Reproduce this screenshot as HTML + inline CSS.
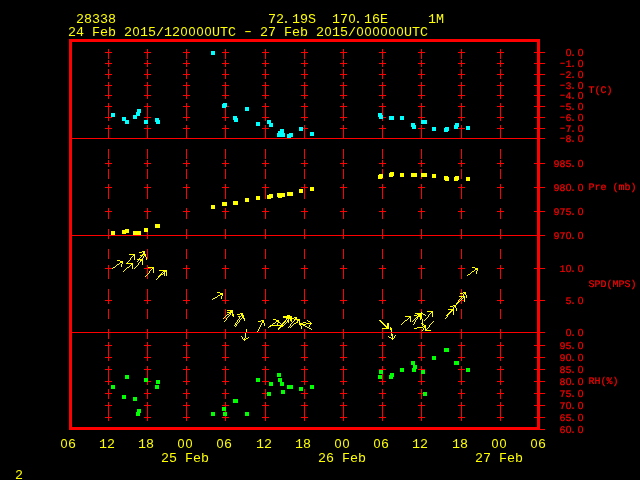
<!DOCTYPE html>
<html><head><meta charset="utf-8"><title>Meteogram 28338</title>
<style>
html,body{margin:0;padding:0;background:#000;width:640px;height:480px;overflow:hidden}
svg{display:block}
text{font-family:"Liberation Mono",monospace;text-anchor:middle}
.z{font-family:"Liberation Sans",sans-serif}
.b{font-size:13.333px;fill:#ffff00}
.b .z{font-size:12.6px}
.s{font-size:10px;fill:#ff0000;text-rendering:geometricPrecision;stroke:#ff0000;stroke-width:0.2px}
.s .z{font-size:10.2px}
</style></head><body>
<svg width="640" height="480" viewBox="0 0 640 480">
<rect width="640" height="480" fill="#000"/>
<path fill="#ff0000" d="M69 39h471v3h-471zM69 42h3v385h-3zM537 42h3v10h-3zM108 49h1v3h-1zM147 49h1v3h-1zM186 49h1v3h-1zM225 49h1v3h-1zM265 49h1v3h-1zM304 49h1v3h-1zM343 49h1v3h-1zM382 49h1v3h-1zM421 49h1v3h-1zM461 49h1v3h-1zM500 49h1v3h-1zM105 52h7v1h-7zM144 52h7v1h-7zM183 52h7v1h-7zM222 52h7v1h-7zM262 52h7v1h-7zM301 52h7v1h-7zM340 52h7v1h-7zM379 52h7v1h-7zM418 52h7v1h-7zM458 52h7v1h-7zM497 52h7v1h-7zM534 52h11v1h-11zM108 53h1v6h-1zM147 53h1v6h-1zM186 53h1v6h-1zM225 53h1v6h-1zM265 53h1v6h-1zM304 53h1v6h-1zM343 53h1v6h-1zM382 53h1v6h-1zM421 53h1v6h-1zM461 53h1v6h-1zM500 53h1v6h-1zM537 53h3v10h-3zM108 60h1v3h-1zM147 60h1v3h-1zM186 60h1v3h-1zM225 60h1v3h-1zM265 60h1v3h-1zM304 60h1v3h-1zM343 60h1v3h-1zM382 60h1v3h-1zM421 60h1v3h-1zM461 60h1v3h-1zM500 60h1v3h-1zM105 63h7v1h-7zM144 63h7v1h-7zM183 63h7v1h-7zM222 63h7v1h-7zM262 63h7v1h-7zM301 63h7v1h-7zM340 63h7v1h-7zM379 63h7v1h-7zM418 63h7v1h-7zM458 63h7v1h-7zM497 63h7v1h-7zM534 63h11v1h-11zM108 64h1v3h-1zM147 64h1v3h-1zM186 64h1v3h-1zM225 64h1v3h-1zM265 64h1v3h-1zM304 64h1v3h-1zM343 64h1v3h-1zM382 64h1v3h-1zM421 64h1v3h-1zM461 64h1v3h-1zM500 64h1v3h-1zM537 64h3v10h-3zM108 69h1v5h-1zM147 69h1v5h-1zM186 69h1v5h-1zM225 69h1v5h-1zM265 69h1v5h-1zM304 69h1v5h-1zM343 69h1v5h-1zM382 69h1v5h-1zM421 69h1v5h-1zM461 69h1v5h-1zM500 69h1v5h-1zM105 74h7v1h-7zM144 74h7v1h-7zM183 74h7v1h-7zM222 74h7v1h-7zM262 74h7v1h-7zM301 74h7v1h-7zM340 74h7v1h-7zM379 74h7v1h-7zM418 74h7v1h-7zM458 74h7v1h-7zM497 74h7v1h-7zM534 74h11v1h-11zM108 75h1v4h-1zM147 75h1v4h-1zM186 75h1v4h-1zM225 75h1v4h-1zM265 75h1v4h-1zM304 75h1v4h-1zM343 75h1v4h-1zM382 75h1v4h-1zM421 75h1v4h-1zM461 75h1v4h-1zM500 75h1v4h-1zM537 75h3v10h-3zM108 82h1v3h-1zM147 82h1v3h-1zM186 82h1v3h-1zM225 82h1v3h-1zM265 82h1v3h-1zM304 82h1v3h-1zM343 82h1v3h-1zM382 82h1v3h-1zM421 82h1v3h-1zM461 82h1v3h-1zM500 82h1v3h-1zM105 85h7v1h-7zM144 85h7v1h-7zM183 85h7v1h-7zM222 85h7v1h-7zM262 85h7v1h-7zM301 85h7v1h-7zM340 85h7v1h-7zM379 85h7v1h-7zM418 85h7v1h-7zM458 85h7v1h-7zM497 85h7v1h-7zM534 85h11v1h-11zM108 86h1v9h-1zM147 86h1v9h-1zM186 86h1v9h-1zM225 86h1v9h-1zM265 86h1v9h-1zM304 86h1v9h-1zM343 86h1v9h-1zM382 86h1v9h-1zM421 86h1v9h-1zM461 86h1v9h-1zM500 86h1v9h-1zM537 86h3v9h-3zM105 95h7v1h-7zM144 95h7v1h-7zM183 95h7v1h-7zM222 95h7v1h-7zM262 95h7v1h-7zM301 95h7v1h-7zM340 95h7v1h-7zM379 95h7v1h-7zM418 95h7v1h-7zM458 95h7v1h-7zM497 95h7v1h-7zM534 95h11v1h-11zM108 96h1v3h-1zM147 96h1v3h-1zM186 96h1v3h-1zM225 96h1v3h-1zM265 96h1v3h-1zM304 96h1v3h-1zM343 96h1v3h-1zM382 96h1v3h-1zM421 96h1v3h-1zM461 96h1v3h-1zM500 96h1v3h-1zM537 96h3v10h-3zM108 103h1v3h-1zM147 103h1v3h-1zM186 103h1v3h-1zM225 103h1v3h-1zM265 103h1v3h-1zM304 103h1v3h-1zM343 103h1v3h-1zM382 103h1v3h-1zM421 103h1v3h-1zM461 103h1v3h-1zM500 103h1v3h-1zM105 106h7v1h-7zM144 106h7v1h-7zM183 106h7v1h-7zM222 106h7v1h-7zM262 106h7v1h-7zM301 106h7v1h-7zM340 106h7v1h-7zM379 106h7v1h-7zM418 106h7v1h-7zM458 106h7v1h-7zM497 106h7v1h-7zM534 106h11v1h-11zM108 107h1v10h-1zM147 107h1v10h-1zM186 107h1v10h-1zM225 107h1v10h-1zM265 107h1v10h-1zM304 107h1v10h-1zM343 107h1v10h-1zM382 107h1v10h-1zM421 107h1v10h-1zM461 107h1v10h-1zM500 107h1v10h-1zM537 107h3v10h-3zM105 117h7v1h-7zM144 117h7v1h-7zM183 117h7v1h-7zM222 117h7v1h-7zM262 117h7v1h-7zM301 117h7v1h-7zM340 117h7v1h-7zM379 117h7v1h-7zM418 117h7v1h-7zM458 117h7v1h-7zM497 117h7v1h-7zM534 117h11v1h-11zM108 118h1v3h-1zM147 118h1v3h-1zM186 118h1v3h-1zM225 118h1v3h-1zM265 118h1v3h-1zM304 118h1v3h-1zM343 118h1v3h-1zM382 118h1v3h-1zM421 118h1v3h-1zM461 118h1v3h-1zM500 118h1v3h-1zM537 118h3v10h-3zM108 125h1v3h-1zM147 125h1v3h-1zM186 125h1v3h-1zM225 125h1v3h-1zM265 125h1v3h-1zM304 125h1v3h-1zM343 125h1v3h-1zM382 125h1v3h-1zM421 125h1v3h-1zM461 125h1v3h-1zM500 125h1v3h-1zM105 128h7v1h-7zM144 128h7v1h-7zM183 128h7v1h-7zM222 128h7v1h-7zM262 128h7v1h-7zM301 128h7v1h-7zM340 128h7v1h-7zM379 128h7v1h-7zM418 128h7v1h-7zM458 128h7v1h-7zM497 128h7v1h-7zM534 128h11v1h-11zM108 129h1v10h-1zM147 129h1v10h-1zM186 129h1v10h-1zM225 129h1v10h-1zM265 129h1v10h-1zM304 129h1v10h-1zM343 129h1v10h-1zM382 129h1v10h-1zM421 129h1v10h-1zM461 129h1v10h-1zM500 129h1v10h-1zM537 129h3v9h-3zM534 138h11v1h-11zM537 139h3v24h-3zM108 149h1v10h-1zM147 149h1v10h-1zM186 149h1v10h-1zM225 149h1v10h-1zM265 149h1v10h-1zM304 149h1v10h-1zM343 149h1v10h-1zM382 149h1v10h-1zM421 149h1v10h-1zM461 149h1v10h-1zM500 149h1v10h-1zM108 160h1v3h-1zM147 160h1v3h-1zM186 160h1v3h-1zM225 160h1v3h-1zM265 160h1v3h-1zM304 160h1v3h-1zM343 160h1v3h-1zM382 160h1v3h-1zM421 160h1v3h-1zM461 160h1v3h-1zM500 160h1v3h-1zM105 163h7v1h-7zM144 163h7v1h-7zM183 163h7v1h-7zM222 163h7v1h-7zM262 163h7v1h-7zM301 163h7v1h-7zM340 163h7v1h-7zM379 163h7v1h-7zM418 163h7v1h-7zM458 163h7v1h-7zM497 163h7v1h-7zM534 163h11v1h-11zM108 164h1v3h-1zM147 164h1v3h-1zM186 164h1v3h-1zM225 164h1v3h-1zM265 164h1v3h-1zM304 164h1v3h-1zM343 164h1v3h-1zM382 164h1v3h-1zM421 164h1v3h-1zM461 164h1v3h-1zM500 164h1v3h-1zM537 164h3v23h-3zM108 169h1v10h-1zM147 169h1v10h-1zM186 169h1v10h-1zM225 169h1v10h-1zM265 169h1v10h-1zM304 169h1v10h-1zM343 169h1v10h-1zM382 169h1v10h-1zM421 169h1v10h-1zM461 169h1v10h-1zM500 169h1v10h-1zM108 184h1v3h-1zM147 184h1v3h-1zM186 184h1v3h-1zM225 184h1v3h-1zM265 184h1v3h-1zM304 184h1v3h-1zM343 184h1v3h-1zM382 184h1v3h-1zM421 184h1v3h-1zM461 184h1v3h-1zM500 184h1v3h-1zM105 187h7v1h-7zM144 187h7v1h-7zM183 187h7v1h-7zM222 187h7v1h-7zM262 187h7v1h-7zM301 187h7v1h-7zM340 187h7v1h-7zM379 187h7v1h-7zM418 187h7v1h-7zM458 187h7v1h-7zM497 187h7v1h-7zM534 187h11v1h-11zM108 188h1v11h-1zM147 188h1v11h-1zM186 188h1v11h-1zM225 188h1v11h-1zM265 188h1v11h-1zM304 188h1v11h-1zM343 188h1v11h-1zM382 188h1v11h-1zM421 188h1v11h-1zM461 188h1v11h-1zM500 188h1v11h-1zM537 188h3v23h-3zM108 208h1v3h-1zM147 208h1v3h-1zM186 208h1v3h-1zM225 208h1v3h-1zM265 208h1v3h-1zM304 208h1v3h-1zM343 208h1v3h-1zM382 208h1v3h-1zM421 208h1v3h-1zM461 208h1v3h-1zM500 208h1v3h-1zM105 211h7v1h-7zM144 211h7v1h-7zM183 211h7v1h-7zM222 211h7v1h-7zM262 211h7v1h-7zM301 211h7v1h-7zM340 211h7v1h-7zM379 211h7v1h-7zM418 211h7v1h-7zM458 211h7v1h-7zM497 211h7v1h-7zM534 211h11v1h-11zM108 212h1v7h-1zM147 212h1v7h-1zM186 212h1v7h-1zM225 212h1v7h-1zM265 212h1v7h-1zM304 212h1v7h-1zM343 212h1v7h-1zM382 212h1v7h-1zM421 212h1v7h-1zM461 212h1v7h-1zM500 212h1v7h-1zM537 212h3v23h-3zM108 229h1v10h-1zM147 229h1v10h-1zM186 229h1v10h-1zM225 229h1v10h-1zM265 229h1v10h-1zM304 229h1v10h-1zM343 229h1v10h-1zM382 229h1v10h-1zM421 229h1v10h-1zM461 229h1v10h-1zM500 229h1v10h-1zM534 235h11v1h-11zM537 236h3v32h-3zM108 249h1v10h-1zM147 249h1v10h-1zM186 249h1v10h-1zM225 249h1v10h-1zM265 249h1v10h-1zM304 249h1v10h-1zM343 249h1v10h-1zM382 249h1v10h-1zM421 249h1v10h-1zM461 249h1v10h-1zM500 249h1v10h-1zM108 265h1v3h-1zM147 265h1v3h-1zM186 265h1v3h-1zM225 265h1v3h-1zM265 265h1v3h-1zM304 265h1v3h-1zM343 265h1v3h-1zM382 265h1v3h-1zM421 265h1v3h-1zM461 265h1v3h-1zM500 265h1v3h-1zM105 268h7v1h-7zM144 268h7v1h-7zM183 268h7v1h-7zM222 268h7v1h-7zM262 268h7v1h-7zM301 268h7v1h-7zM340 268h7v1h-7zM379 268h7v1h-7zM418 268h7v1h-7zM458 268h7v1h-7zM497 268h7v1h-7zM534 268h11v1h-11zM108 269h1v10h-1zM147 269h1v10h-1zM186 269h1v10h-1zM225 269h1v10h-1zM265 269h1v10h-1zM304 269h1v10h-1zM343 269h1v10h-1zM382 269h1v10h-1zM421 269h1v10h-1zM461 269h1v10h-1zM500 269h1v10h-1zM537 269h3v31h-3zM108 289h1v11h-1zM147 289h1v11h-1zM186 289h1v11h-1zM225 289h1v11h-1zM265 289h1v11h-1zM304 289h1v11h-1zM343 289h1v11h-1zM382 289h1v11h-1zM421 289h1v11h-1zM461 289h1v11h-1zM500 289h1v11h-1zM105 300h7v1h-7zM144 300h7v1h-7zM183 300h7v1h-7zM222 300h7v1h-7zM262 300h7v1h-7zM301 300h7v1h-7zM340 300h7v1h-7zM379 300h7v1h-7zM418 300h7v1h-7zM458 300h7v1h-7zM497 300h7v1h-7zM534 300h11v1h-11zM108 301h1v3h-1zM147 301h1v3h-1zM186 301h1v3h-1zM225 301h1v3h-1zM265 301h1v3h-1zM304 301h1v3h-1zM343 301h1v3h-1zM382 301h1v3h-1zM421 301h1v3h-1zM461 301h1v3h-1zM500 301h1v3h-1zM537 301h3v31h-3zM108 309h1v10h-1zM147 309h1v10h-1zM186 309h1v10h-1zM225 309h1v10h-1zM265 309h1v10h-1zM304 309h1v10h-1zM343 309h1v10h-1zM382 309h1v10h-1zM421 309h1v10h-1zM461 309h1v10h-1zM500 309h1v10h-1zM108 329h1v10h-1zM147 329h1v10h-1zM186 329h1v10h-1zM225 329h1v10h-1zM265 329h1v10h-1zM304 329h1v10h-1zM343 329h1v10h-1zM382 329h1v10h-1zM421 329h1v10h-1zM461 329h1v10h-1zM500 329h1v10h-1zM534 332h11v1h-11zM537 333h3v12h-3zM108 342h1v3h-1zM147 342h1v3h-1zM186 342h1v3h-1zM225 342h1v3h-1zM265 342h1v3h-1zM304 342h1v3h-1zM343 342h1v3h-1zM382 342h1v3h-1zM421 342h1v3h-1zM461 342h1v3h-1zM500 342h1v3h-1zM105 345h7v1h-7zM144 345h7v1h-7zM183 345h7v1h-7zM222 345h7v1h-7zM262 345h7v1h-7zM301 345h7v1h-7zM340 345h7v1h-7zM379 345h7v1h-7zM418 345h7v1h-7zM458 345h7v1h-7zM497 345h7v1h-7zM534 345h11v1h-11zM108 346h1v11h-1zM147 346h1v11h-1zM186 346h1v11h-1zM225 346h1v11h-1zM265 346h1v11h-1zM304 346h1v11h-1zM343 346h1v11h-1zM382 346h1v11h-1zM421 346h1v11h-1zM461 346h1v11h-1zM500 346h1v11h-1zM537 346h3v11h-3zM105 357h7v1h-7zM144 357h7v1h-7zM183 357h7v1h-7zM222 357h7v1h-7zM262 357h7v1h-7zM301 357h7v1h-7zM340 357h7v1h-7zM379 357h7v1h-7zM418 357h7v1h-7zM458 357h7v1h-7zM497 357h7v1h-7zM534 357h11v1h-11zM108 358h1v3h-1zM147 358h1v3h-1zM186 358h1v3h-1zM225 358h1v3h-1zM265 358h1v3h-1zM304 358h1v3h-1zM343 358h1v3h-1zM382 358h1v3h-1zM421 358h1v3h-1zM461 358h1v3h-1zM500 358h1v3h-1zM537 358h3v11h-3zM108 366h1v3h-1zM147 366h1v3h-1zM186 366h1v3h-1zM225 366h1v3h-1zM265 366h1v3h-1zM304 366h1v3h-1zM343 366h1v3h-1zM382 366h1v3h-1zM421 366h1v3h-1zM461 366h1v3h-1zM500 366h1v3h-1zM105 369h7v1h-7zM144 369h7v1h-7zM183 369h7v1h-7zM222 369h7v1h-7zM262 369h7v1h-7zM301 369h7v1h-7zM340 369h7v1h-7zM379 369h7v1h-7zM418 369h7v1h-7zM458 369h7v1h-7zM497 369h7v1h-7zM534 369h11v1h-11zM108 370h1v11h-1zM147 370h1v11h-1zM186 370h1v11h-1zM225 370h1v11h-1zM265 370h1v11h-1zM304 370h1v11h-1zM343 370h1v11h-1zM382 370h1v11h-1zM421 370h1v11h-1zM461 370h1v11h-1zM500 370h1v11h-1zM537 370h3v11h-3zM105 381h7v1h-7zM144 381h7v1h-7zM183 381h7v1h-7zM222 381h7v1h-7zM262 381h7v1h-7zM301 381h7v1h-7zM340 381h7v1h-7zM379 381h7v1h-7zM418 381h7v1h-7zM458 381h7v1h-7zM497 381h7v1h-7zM534 381h11v1h-11zM108 382h1v3h-1zM147 382h1v3h-1zM186 382h1v3h-1zM225 382h1v3h-1zM265 382h1v3h-1zM304 382h1v3h-1zM343 382h1v3h-1zM382 382h1v3h-1zM421 382h1v3h-1zM461 382h1v3h-1zM500 382h1v3h-1zM537 382h3v11h-3zM108 389h1v4h-1zM147 389h1v4h-1zM186 389h1v4h-1zM225 389h1v4h-1zM265 389h1v4h-1zM304 389h1v4h-1zM343 389h1v4h-1zM382 389h1v4h-1zM421 389h1v4h-1zM461 389h1v4h-1zM500 389h1v4h-1zM105 393h7v1h-7zM144 393h7v1h-7zM183 393h7v1h-7zM222 393h7v1h-7zM262 393h7v1h-7zM301 393h7v1h-7zM340 393h7v1h-7zM379 393h7v1h-7zM418 393h7v1h-7zM458 393h7v1h-7zM497 393h7v1h-7zM534 393h11v1h-11zM108 394h1v5h-1zM147 394h1v5h-1zM186 394h1v5h-1zM225 394h1v5h-1zM265 394h1v5h-1zM304 394h1v5h-1zM343 394h1v5h-1zM382 394h1v5h-1zM421 394h1v5h-1zM461 394h1v5h-1zM500 394h1v5h-1zM537 394h3v11h-3zM108 402h1v3h-1zM147 402h1v3h-1zM186 402h1v3h-1zM225 402h1v3h-1zM265 402h1v3h-1zM304 402h1v3h-1zM343 402h1v3h-1zM382 402h1v3h-1zM421 402h1v3h-1zM461 402h1v3h-1zM500 402h1v3h-1zM105 405h7v1h-7zM144 405h7v1h-7zM183 405h7v1h-7zM222 405h7v1h-7zM262 405h7v1h-7zM301 405h7v1h-7zM340 405h7v1h-7zM379 405h7v1h-7zM418 405h7v1h-7zM458 405h7v1h-7zM497 405h7v1h-7zM534 405h11v1h-11zM108 406h1v11h-1zM147 406h1v11h-1zM186 406h1v11h-1zM225 406h1v11h-1zM265 406h1v11h-1zM304 406h1v11h-1zM343 406h1v11h-1zM382 406h1v11h-1zM421 406h1v11h-1zM461 406h1v11h-1zM500 406h1v11h-1zM537 406h3v11h-3zM105 417h7v1h-7zM144 417h7v1h-7zM183 417h7v1h-7zM222 417h7v1h-7zM262 417h7v1h-7zM301 417h7v1h-7zM340 417h7v1h-7zM379 417h7v1h-7zM418 417h7v1h-7zM458 417h7v1h-7zM497 417h7v1h-7zM534 417h11v1h-11zM108 418h1v3h-1zM147 418h1v3h-1zM186 418h1v3h-1zM225 418h1v3h-1zM265 418h1v3h-1zM304 418h1v3h-1zM343 418h1v3h-1zM382 418h1v3h-1zM421 418h1v3h-1zM461 418h1v3h-1zM500 418h1v3h-1zM537 418h3v9h-3zM69 427h471v2h-471zM69 429h476v1h-476z"/>
<path fill="#00ffff" d="M211 51h4v4h-4zM223 103h4v1h-4zM222 104h5v3h-5zM222 107h4v1h-4zM245 107h4v4h-4zM137 109h4v3h-4zM136 112h5v1h-5zM111 113h4v4h-4zM136 113h4v2h-4zM378 113h4v2h-4zM133 115h7v1h-7zM378 115h5v2h-5zM133 116h4v3h-4zM233 116h4v2h-4zM389 116h5v4h-5zM400 116h4v4h-4zM122 117h4v3h-4zM379 117h4v2h-4zM155 118h4v2h-4zM233 118h5v2h-5zM122 120h7v1h-7zM144 120h4v4h-4zM155 120h5v2h-5zM234 120h4v2h-4zM267 120h4v3h-4zM421 120h6v4h-6zM125 121h4v3h-4zM156 122h4v2h-4zM256 122h4v4h-4zM267 123h6v1h-6zM411 123h4v2h-4zM455 123h4v2h-4zM269 124h4v3h-4zM411 125h5v2h-5zM454 125h5v2h-5zM466 126h4v4h-4zM299 127h4v4h-4zM412 127h4v2h-4zM432 127h4v4h-4zM445 127h4v1h-4zM454 127h4v2h-4zM444 128h5v3h-5zM280 129h4v2h-4zM278 131h6v2h-6zM444 131h4v1h-4zM310 132h4v4h-4zM277 133h8v4h-8zM289 133h4v1h-4zM287 134h6v3h-6zM287 137h4v1h-4z"/>
<path fill="#ffff00" d="M390 172h4v1h-4zM389 173h5v3h-5zM400 173h4v4h-4zM411 173h6v4h-6zM421 173h6v4h-6zM379 174h4v1h-4zM432 174h4v4h-4zM378 175h5v3h-5zM389 176h4v1h-4zM444 176h4v1h-4zM455 176h4v1h-4zM444 177h5v3h-5zM454 177h5v3h-5zM466 177h4v4h-4zM378 178h4v1h-4zM445 180h4v1h-4zM454 180h4v1h-4zM310 187h4v4h-4zM299 189h4v4h-4zM287 192h6v4h-6zM277 193h8v4h-8zM269 194h4v1h-4zM267 195h6v3h-6zM256 196h4v4h-4zM278 197h4v1h-4zM245 198h4v4h-4zM267 198h4v1h-4zM233 201h5v4h-5zM222 202h5v4h-5zM211 205h4v4h-4zM155 224h5v4h-5zM144 228h4v4h-4zM125 229h4v1h-4zM122 230h7v3h-7zM111 231h4v4h-4zM133 231h8v4h-8zM122 233h4v1h-4z"/>
<path fill="#00ff00" d="M444 348h5v4h-5zM432 356h4v4h-4zM411 361h4v4h-4zM454 361h5v4h-5zM413 365h4v3h-4zM400 368h4v4h-4zM412 368h5v1h-5zM466 368h4v4h-4zM412 369h4v3h-4zM379 370h4v4h-4zM421 370h4v4h-4zM277 373h4v4h-4zM390 373h4v2h-4zM125 375h4v4h-4zM378 375h4v4h-4zM389 375h5v2h-5zM389 377h4v2h-4zM144 378h4v4h-4zM256 378h4v4h-4zM278 378h4v4h-4zM156 380h4v4h-4zM269 382h4v4h-4zM280 382h4v4h-4zM111 385h4v4h-4zM155 385h4v4h-4zM287 385h6v4h-6zM310 385h4v4h-4zM299 387h4v4h-4zM281 390h4v4h-4zM267 392h4v4h-4zM423 392h4v4h-4zM122 395h4v4h-4zM133 397h4v4h-4zM233 399h5v4h-5zM222 407h4v4h-4zM137 409h4v3h-4zM136 412h5v1h-5zM211 412h4v4h-4zM223 412h4v4h-4zM245 412h4v4h-4zM136 413h4v3h-4z"/>
<path fill="#ffff00" d="M142 251h3v1h-3zM139 252h3v1h-3zM143 252h2v2h-2zM129 254h6v1h-6zM142 254h4v1h-4zM133 255h2v1h-2zM140 255h3v1h-3zM144 255h2v1h-2zM132 256h1v1h-1zM134 256h1v4h-1zM141 256h1v1h-1zM143 256h1v2h-1zM145 256h1v1h-1zM131 257h1v1h-1zM140 257h1v1h-1zM146 257h1v3h-1zM130 258h1v2h-1zM139 258h1v1h-1zM142 258h1v1h-1zM137 259h6v1h-6zM117 260h3v1h-3zM129 260h1v1h-1zM138 260h1v1h-1zM140 260h3v1h-3zM120 261h3v2h-3zM128 261h1v1h-1zM137 261h1v1h-1zM140 261h1v1h-1zM142 261h1v4h-1zM127 262h1v1h-1zM139 262h1v1h-1zM119 263h1v1h-1zM122 263h1v1h-1zM126 263h7v1h-7zM138 263h1v2h-1zM117 264h2v1h-2zM121 264h1v3h-1zM131 264h2v1h-2zM116 265h1v1h-1zM130 265h1v1h-1zM132 265h1v4h-1zM137 265h1v1h-1zM115 266h1v1h-1zM129 266h1v1h-1zM136 266h1v1h-1zM113 267h2v1h-2zM127 267h2v1h-2zM135 267h1v1h-1zM148 267h6v1h-6zM472 267h3v1h-3zM112 268h1v1h-1zM126 268h1v1h-1zM134 268h1v1h-1zM152 268h2v1h-2zM475 268h3v2h-3zM125 269h1v1h-1zM151 269h1v1h-1zM153 269h1v4h-1zM124 270h1v1h-1zM150 270h1v1h-1zM159 270h8v1h-8zM474 270h1v1h-1zM477 270h1v1h-1zM123 271h1v1h-1zM149 271h1v2h-1zM163 271h4v1h-4zM472 271h2v1h-2zM476 271h1v3h-1zM162 272h1v1h-1zM164 272h1v1h-1zM166 272h1v4h-1zM471 272h1v1h-1zM148 273h1v1h-1zM161 273h1v1h-1zM163 273h2v1h-2zM470 273h1v1h-1zM147 274h1v1h-1zM160 274h3v1h-3zM164 274h1v2h-1zM468 274h2v1h-2zM146 275h1v1h-1zM159 275h2v1h-2zM467 275h1v1h-1zM145 276h1v1h-1zM158 276h2v1h-2zM158 277h1v1h-1zM157 278h1v1h-1zM156 279h1v1h-1zM217 292h3v1h-3zM463 292h3v1h-3zM220 293h3v2h-3zM460 293h3v1h-3zM464 293h2v1h-2zM463 294h1v2h-1zM465 294h1v1h-1zM218 295h2v1h-2zM222 295h1v1h-1zM466 295h1v3h-1zM217 296h1v1h-1zM221 296h1v3h-1zM459 296h6v1h-6zM215 297h2v1h-2zM461 297h1v1h-1zM463 297h2v1h-2zM213 298h2v1h-2zM460 298h1v1h-1zM462 298h1v1h-1zM464 298h1v4h-1zM212 299h1v1h-1zM459 299h1v1h-1zM461 299h1v1h-1zM458 300h1v1h-1zM460 300h1v1h-1zM458 301h2v1h-2zM457 302h2v1h-2zM456 303h2v1h-2zM456 304h1v1h-1zM453 305h3v1h-3zM450 306h3v1h-3zM454 306h2v1h-2zM453 307h1v2h-1zM455 307h1v1h-1zM456 308h1v3h-1zM448 309h6v1h-6zM227 310h6v1h-6zM451 310h3v1h-3zM230 311h3v1h-3zM427 311h6v1h-6zM450 311h2v1h-2zM453 311h1v4h-1zM227 312h6v1h-6zM421 312h1v1h-1zM431 312h2v1h-2zM449 312h2v1h-2zM229 313h2v1h-2zM232 313h1v1h-1zM240 313h3v1h-3zM415 313h8v1h-8zM430 313h1v1h-1zM432 313h1v4h-1zM448 313h2v1h-2zM227 314h2v1h-2zM230 314h1v1h-1zM232 314h2v2h-2zM237 314h3v1h-3zM241 314h2v1h-2zM417 314h5v1h-5zM423 314h2v1h-2zM429 314h1v1h-1zM447 314h2v1h-2zM226 315h1v1h-1zM229 315h1v1h-1zM241 315h3v1h-3zM287 315h3v1h-3zM414 315h3v1h-3zM418 315h4v1h-4zM425 315h1v1h-1zM428 315h1v2h-1zM446 315h2v1h-2zM225 316h1v1h-1zM228 316h1v1h-1zM233 316h1v1h-1zM238 316h3v1h-3zM242 316h2v2h-2zM283 316h9v2h-9zM405 316h6v1h-6zM417 316h5v1h-5zM447 316h1v1h-1zM224 317h1v1h-1zM227 317h1v1h-1zM239 317h1v2h-1zM294 317h3v1h-3zM409 317h2v1h-2zM416 317h2v1h-2zM420 317h2v2h-2zM427 317h1v1h-1zM446 317h1v1h-1zM223 318h1v1h-1zM226 318h1v2h-1zM241 318h1v1h-1zM243 318h2v1h-2zM286 318h8v1h-8zM295 318h2v1h-2zM408 318h1v1h-1zM410 318h1v4h-1zM415 318h1v1h-1zM417 318h1v1h-1zM426 318h1v1h-1zM445 318h1v1h-1zM238 319h1v1h-1zM240 319h1v1h-1zM244 319h1v2h-1zM273 319h3v1h-3zM286 319h1v1h-1zM288 319h1v1h-1zM290 319h2v2h-2zM294 319h6v1h-6zM407 319h1v1h-1zM414 319h1v1h-1zM416 319h1v1h-1zM420 319h1v1h-1zM422 319h1v4h-1zM425 319h1v1h-1zM225 320h1v1h-1zM237 320h1v2h-1zM239 320h1v2h-1zM261 320h3v1h-3zM276 320h3v2h-3zM285 320h1v1h-1zM287 320h2v2h-2zM294 320h1v1h-1zM297 320h3v1h-3zM307 320h1v1h-1zM379 320h2v1h-2zM405 320h2v1h-2zM413 320h1v1h-1zM415 320h1v2h-1zM424 320h1v1h-1zM224 321h1v1h-1zM258 321h3v1h-3zM262 321h2v2h-2zM284 321h2v1h-2zM291 321h1v1h-1zM293 321h1v1h-1zM297 321h1v1h-1zM299 321h1v2h-1zM308 321h2v1h-2zM380 321h2v1h-2zM404 321h1v1h-1zM412 321h1v1h-1zM433 321h1v1h-1zM236 322h1v1h-1zM238 322h1v1h-1zM275 322h1v1h-1zM278 322h2v1h-2zM283 322h2v1h-2zM286 322h1v1h-1zM288 322h1v1h-1zM292 322h1v1h-1zM296 322h2v1h-2zM303 322h3v1h-3zM310 322h1v1h-1zM381 322h2v1h-2zM403 322h1v1h-1zM414 322h1v2h-1zM432 322h1v1h-1zM235 323h1v1h-1zM237 323h1v1h-1zM261 323h1v2h-1zM264 323h1v3h-1zM273 323h2v1h-2zM277 323h1v2h-1zM280 323h1v1h-1zM282 323h2v1h-2zM285 323h1v1h-1zM291 323h1v1h-1zM294 323h2v1h-2zM299 323h4v1h-4zM306 323h6v1h-6zM382 323h2v1h-2zM387 323h2v3h-2zM402 323h1v1h-1zM421 323h2v1h-2zM431 323h1v1h-1zM235 324h2v1h-2zM272 324h1v1h-1zM281 324h2v1h-2zM284 324h1v1h-1zM290 324h1v2h-1zM293 324h1v1h-1zM299 324h7v1h-7zM310 324h1v1h-1zM383 324h2v1h-2zM401 324h1v1h-1zM413 324h1v1h-1zM422 324h2v1h-2zM430 324h1v1h-1zM234 325h1v1h-1zM236 325h1v1h-1zM260 325h1v2h-1zM270 325h14v1h-14zM292 325h1v1h-1zM300 325h1v1h-1zM303 325h2v1h-2zM309 325h1v2h-1zM384 325h2v1h-2zM422 325h1v1h-1zM424 325h2v1h-2zM429 325h1v2h-1zM235 326h1v1h-1zM269 326h2v1h-2zM280 326h3v1h-3zM289 326h1v1h-1zM291 326h1v1h-1zM301 326h1v3h-1zM305 326h2v1h-2zM385 326h4v1h-4zM423 326h3v1h-3zM259 327h1v2h-1zM268 327h1v1h-1zM279 327h2v1h-2zM288 327h1v1h-1zM290 327h1v1h-1zM307 327h2v1h-2zM386 327h3v1h-3zM390 327h1v1h-1zM417 327h6v1h-6zM424 327h2v1h-2zM428 327h1v1h-1zM278 328h2v1h-2zM309 328h2v1h-2zM382 328h7v1h-7zM390 328h2v2h-2zM414 328h3v1h-3zM423 328h1v2h-1zM425 328h1v1h-1zM427 328h1v1h-1zM246 329h1v3h-1zM258 329h1v2h-1zM278 329h1v1h-1zM311 329h1v1h-1zM425 329h2v1h-2zM391 330h1v4h-1zM422 330h1v1h-1zM425 330h6v1h-6zM257 331h1v1h-1zM245 332h1v6h-1zM391 334h2v2h-2zM395 335h1v1h-1zM241 336h1v1h-1zM388 336h1v1h-1zM392 336h1v2h-1zM394 336h1v2h-1zM242 337h1v2h-1zM248 337h1v1h-1zM389 337h2v1h-2zM244 338h1v1h-1zM246 338h2v1h-2zM391 338h3v1h-3zM243 339h3v1h-3zM392 339h1v1h-1zM244 340h1v1h-1z"/>
<path fill="#ff0000" d="M72 138h465v1h-465zM72 235h465v1h-465zM72 332h465v1h-465z"/>
<g>
<text class="b" x="80 88 96 104 112" y="23">28338</text>
<text class="b" x="272 280 286 296 304 312" y="23">72.19S</text>
<text class="b" x="336 344 352 358 368 376 384" y="23">17<tspan class="z">0</tspan>.16E</text>
<text class="b" x="432 440" y="23">1M</text>
<text class="b" x="72 80 88 96 104 112 120 128 136 144 152 160 168 176 184 192 200 208 216 224 232 240 248 256 264 272 280 288 296 304 312 320 328 336 344 352 360 368 376 384 392 400 408 416 424" y="36 36 36 36 36 36 36 36 36 36 36 36 36 36 36 36 36 36 36 36 36 36 35 36 36 36 36 36 36 36 36 36 36 36 36 36 36 36 36 36 36 36 36 36 36">24 Feb 2<tspan class="z">0</tspan>15/12<tspan class="z">0000</tspan>UTC <tspan textLength="12" lengthAdjust="spacingAndGlyphs">-</tspan> 27 Feb 2<tspan class="z">0</tspan>15/<tspan class="z">000000</tspan>UTC</text>
<text class="b" x="64 72" y="448"><tspan class="z">0</tspan>6</text>
<text class="b" x="103 111" y="448">12</text>
<text class="b" x="142 150" y="448">18</text>
<text class="b" x="181 189" y="448"><tspan class="z">00</tspan></text>
<text class="b" x="220 228" y="448"><tspan class="z">0</tspan>6</text>
<text class="b" x="260 268" y="448">12</text>
<text class="b" x="299 307" y="448">18</text>
<text class="b" x="338 346" y="448"><tspan class="z">00</tspan></text>
<text class="b" x="377 385" y="448"><tspan class="z">0</tspan>6</text>
<text class="b" x="416 424" y="448">12</text>
<text class="b" x="456 464" y="448">18</text>
<text class="b" x="495 503" y="448"><tspan class="z">00</tspan></text>
<text class="b" x="534 542" y="448"><tspan class="z">0</tspan>6</text>
<text class="b" x="165 173 181 189 197 205" y="462">25 Feb</text>
<text class="b" x="322 330 338 346 354 362" y="462">26 Feb</text>
<text class="b" x="479 487 495 503 511 519" y="462">27 Feb</text>
<text class="b" x="19" y="479">2</text>
<text class="s" x="568.5 573 580.5" y="56"><tspan class="z">0</tspan>.<tspan class="z">0</tspan></text>
<text class="s" x="562.5 568.5 573 580.5" y="66.3 67 67 67"><tspan textLength="9" lengthAdjust="spacingAndGlyphs">-</tspan>1.<tspan class="z">0</tspan></text>
<text class="s" x="562.5 568.5 573 580.5" y="77.3 78 78 78"><tspan textLength="9" lengthAdjust="spacingAndGlyphs">-</tspan>2.<tspan class="z">0</tspan></text>
<text class="s" x="562.5 568.5 573 580.5" y="88.3 89 89 89"><tspan textLength="9" lengthAdjust="spacingAndGlyphs">-</tspan>3.<tspan class="z">0</tspan></text>
<text class="s" x="562.5 568.5 573 580.5" y="98.3 99 99 99"><tspan textLength="9" lengthAdjust="spacingAndGlyphs">-</tspan>4.<tspan class="z">0</tspan></text>
<text class="s" x="562.5 568.5 573 580.5" y="109.3 110 110 110"><tspan textLength="9" lengthAdjust="spacingAndGlyphs">-</tspan>5.<tspan class="z">0</tspan></text>
<text class="s" x="562.5 568.5 573 580.5" y="120.3 121 121 121"><tspan textLength="9" lengthAdjust="spacingAndGlyphs">-</tspan>6.<tspan class="z">0</tspan></text>
<text class="s" x="562.5 568.5 573 580.5" y="131.3 132 132 132"><tspan textLength="9" lengthAdjust="spacingAndGlyphs">-</tspan>7.<tspan class="z">0</tspan></text>
<text class="s" x="562.5 568.5 573 580.5" y="141.3 142 142 142"><tspan textLength="9" lengthAdjust="spacingAndGlyphs">-</tspan>8.<tspan class="z">0</tspan></text>
<text class="s" x="556.5 562.5 568.5 573 580.5" y="167">985.<tspan class="z">0</tspan></text>
<text class="s" x="556.5 562.5 568.5 573 580.5" y="191">98<tspan class="z">0</tspan>.<tspan class="z">0</tspan></text>
<text class="s" x="556.5 562.5 568.5 573 580.5" y="215">975.<tspan class="z">0</tspan></text>
<text class="s" x="556.5 562.5 568.5 573 580.5" y="239">97<tspan class="z">0</tspan>.<tspan class="z">0</tspan></text>
<text class="s" x="562.5 568.5 573 580.5" y="272">1<tspan class="z">0</tspan>.<tspan class="z">0</tspan></text>
<text class="s" x="568.5 573 580.5" y="304">5.<tspan class="z">0</tspan></text>
<text class="s" x="568.5 573 580.5" y="336"><tspan class="z">0</tspan>.<tspan class="z">0</tspan></text>
<text class="s" x="562.5 568.5 573 580.5" y="349">95.<tspan class="z">0</tspan></text>
<text class="s" x="562.5 568.5 573 580.5" y="361">9<tspan class="z">0</tspan>.<tspan class="z">0</tspan></text>
<text class="s" x="562.5 568.5 573 580.5" y="373">85.<tspan class="z">0</tspan></text>
<text class="s" x="562.5 568.5 573 580.5" y="385">8<tspan class="z">0</tspan>.<tspan class="z">0</tspan></text>
<text class="s" x="562.5 568.5 573 580.5" y="397">75.<tspan class="z">0</tspan></text>
<text class="s" x="562.5 568.5 573 580.5" y="409">7<tspan class="z">0</tspan>.<tspan class="z">0</tspan></text>
<text class="s" x="562.5 568.5 573 580.5" y="421">65.<tspan class="z">0</tspan></text>
<text class="s" x="562.5 568.5 573 580.5" y="433">6<tspan class="z">0</tspan>.<tspan class="z">0</tspan></text>
<text class="s" x="591.5 597.5 603.5 609.5" y="93">T(C)</text>
<text class="s" x="591.5 597.5 603.5 609.5 615.5 621.5 627.5 633.5" y="190">Pre (mb)</text>
<text class="s" x="591.5 597.5 603.5 609.5 615.5 621.5 627.5 633.5" y="287">SPD(MPS)</text>
<text class="s" x="591.5 597.5 603.5 609.5 615.5" y="384">RH(%)</text>
</g>
</svg>
</body></html>
